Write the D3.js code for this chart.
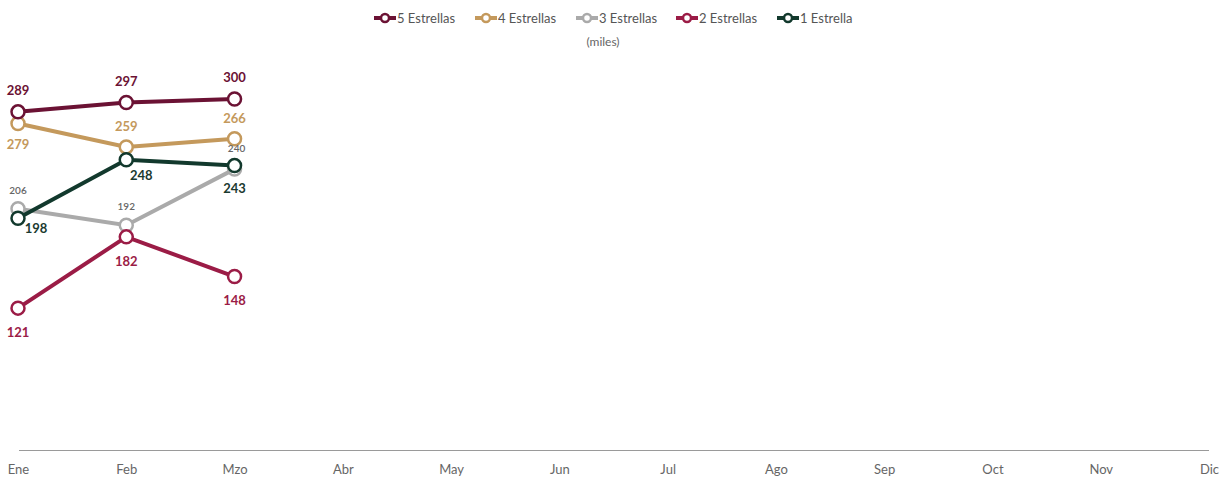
<!DOCTYPE html>
<html><head><meta charset="utf-8">
<script src="https://cdn.jsdelivr.net/npm/d3@7"></script>
<style>
body{margin:0;background:#fff;}
svg{display:block;font-family:"Source Sans Pro","Lato","Open Sans",sans-serif;}
</style></head>
<body><svg id="c" width="1222" height="478"></svg>
<script>
const months = ["Ene","Feb","Mzo","Abr","May","Jun","Jul","Ago","Sep","Oct","Nov","Dic"];
const seriesNames = ["5 Estrellas","4 Estrellas","3 Estrellas","2 Estrellas","1 Estrella"];
const values5 = [289, 297, 300];
const values4 = [279, 259, 266];
const values3 = [206, 192, 240];
const values2 = [121, 182, 148];
const values1 = [198, 248, 243];
const unitLabel = "(miles)";

const colors = ["#6b1234","#c4995c","#aaaaaa","#9b1c46","#12392d"];
const labelColors = ["#6b1234","#c4995c","#666666","#9b1c46","#1b3a30"];
// label placement: [dx, dy] per point
const labelPos = [
  [[0,-17],[0,-17],[0,-17]],
  [[0,25],[0,-16],[0,-16]],
  [[0,-15],[0,-15],[2,-17]],
  [[0,29],[0,29],[0,28]],
  [[18,15],[15,20],[0,27]]
];
const allValues = [values5, values4, values3, values2, values1];

const svg = d3.select("#c");
const x = d3.scalePoint().domain(months).range([18, 1209]);
const y = d3.scaleLinear().domain([0, 300]).range([449.5, 99]);

// axis
const axis = svg.append("g").attr("transform","translate(0,450.5)")
  .call(d3.axisBottom(x).tickSize(0).tickPadding(14));
axis.select(".domain").attr("stroke","#9a9a9a").attr("stroke-width",1).attr("d","M19,0H1209");
axis.selectAll("text").attr("fill","#666").style("font-size","13px")
  .style("font-family",'"Source Sans Pro","Lato","Open Sans",sans-serif');

const line = d3.line().x((d,i)=>x(months[i])).y(d=>y(d));

// draw series (bottom to top order so 5 on top? draw 1 last to match overlaps)
const order = [2,3,1,0,4];
order.forEach(s=>{
  const g = svg.append("g");
  g.append("path").datum(allValues[s]).attr("d",line)
    .attr("fill","none").attr("stroke",colors[s]).attr("stroke-width",4);
  g.selectAll("circle").data(allValues[s]).join("circle")
    .attr("cx",(d,i)=>x(months[i])).attr("cy",d=>y(d)).attr("r",6.5)
    .attr("fill","#fff").attr("stroke",colors[s]).attr("stroke-width",2.5);
});
order.forEach(s=>{
  svg.append("g").selectAll("text").data(allValues[s]).join("text")
    .attr("x",(d,i)=>x(months[i])+labelPos[s][i][0])
    .attr("y",(d,i)=>y(d)+labelPos[s][i][1])
    .attr("text-anchor","middle")
    .attr("fill",labelColors[s])
    .style("font-size", s===2 ? "10px" : "13px")
    .style("font-weight", s===2 ? "600" : "700")
    .text(d=>d);
});

// legend
const legendX = [374, 475, 576, 676, 777];
const lg = svg.append("g");
seriesNames.forEach((n,i)=>{
  const g = lg.append("g").attr("transform",`translate(${legendX[i]},18)`);
  g.append("line").attr("x1",0).attr("x2",22).attr("y1",0).attr("y2",0)
    .attr("stroke",colors[i]).attr("stroke-width",4);
  g.append("circle").attr("cx",11).attr("cy",0).attr("r",4)
    .attr("fill","#fff").attr("stroke",colors[i]).attr("stroke-width",2.5);
  g.append("text").attr("x",23).attr("y",4.5).attr("fill","#555")
    .style("font-size","13px").text(n);
});
svg.append("text").attr("x",603).attr("y",46).attr("text-anchor","middle")
  .attr("fill","#666").style("font-size","12px").text(unitLabel);
</script></body></html>
